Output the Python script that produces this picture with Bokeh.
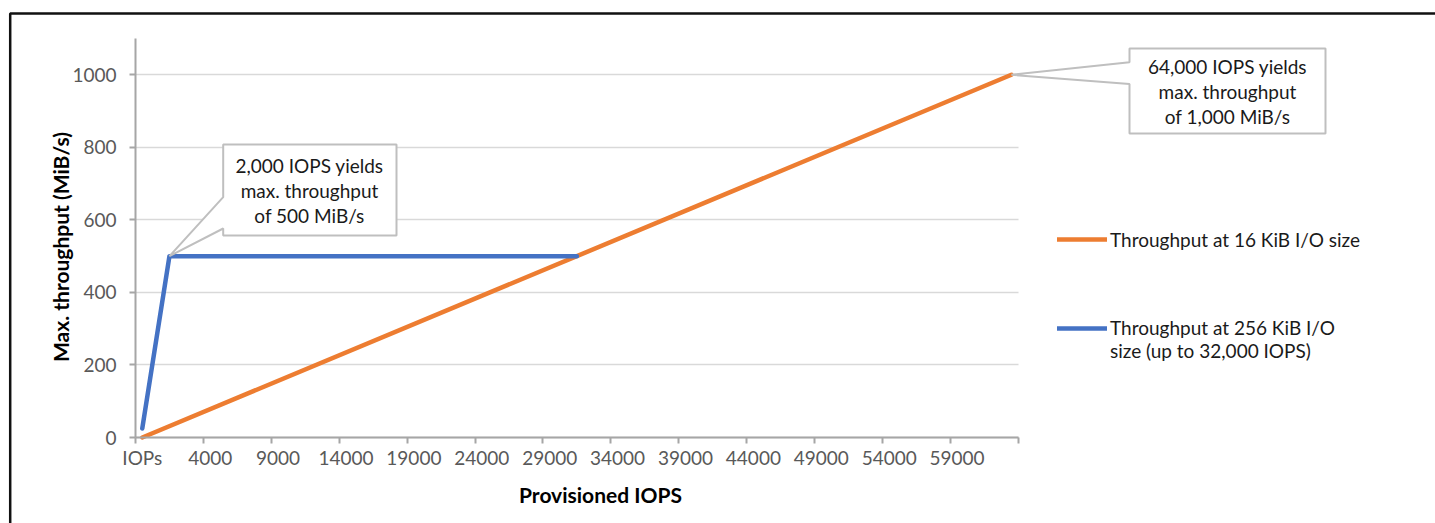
import math
from bokeh.plotting import figure
from bokeh.models import Range1d, FixedTicker, Label, PolyAnnotation, Legend, LegendItem, Grid
from bokeh.embed import file_html
from bokeh.resources import INLINE

# ---- data (x = provisioned IOPS in thousands = category index on an Excel category axis)
iops_k_16 = [0, 64]
tput_16 = [0, 1000]
iops_k_256 = [0, 2, 32]
tput_256 = [25, 500, 500]

tick_pos = list(range(0, 61, 5))
tick_labels = ["IOPs", "4000", "9000", "14000", "19000", "24000", "29000",
               "34000", "39000", "44000", "49000", "54000", "59000"]
y_ticks = [0, 200, 400, 600, 800, 1000]

series_names = ["Throughput at 16 KiB I/O size",
                "\nThroughput at 256 KiB I/O\nsize (up to 32,000 IOPS)"]
callout_1 = "2,000 IOPS yields\nmax. throughput\nof 500 MiB/s"
callout_2 = "64,000 IOPS yields\nmax. throughput\nof 1,000 MiB/s"

ORANGE = "#ED7D31"
BLUE = "#4472C4"
FONT = "Lato"
FS = "19px"
TXT = "#1a1a1a"

# ---- geometry: plot area in page pixels x 135..1017.7, y 38..437
X0, X1 = -0.5, 64.5
Y0, Y1 = 0, 1100
FL, FR, FT, FB = 135.0, 1017.7, 38.0, 437.0
W, H = 1435, 523


def px2x(px):
    return X0 + (px - FL) / (FR - FL) * (X1 - X0)


def py2y(py):
    return Y0 + (FB - py) / (FB - FT) * (Y1 - Y0)


p = figure(width=W, height=H, x_range=Range1d(px2x(0), px2x(W)),
           y_range=Range1d(py2y(H), py2y(0)),
           output_backend="svg", toolbar_location=None, min_border=0)
p.outline_line_color = None

# x axis (category style: ticks on boundaries, labels on categories)
xa = p.xaxis[0]
xa.fixed_location = 0
xa.bounds = (X0, X1)
xa.ticker = FixedTicker(ticks=tick_pos, minor_ticks=[X0 + 5 * k for k in range(14)])
xa.major_label_overrides = {t: l for t, l in zip(tick_pos, tick_labels)}
xa.major_tick_line_color = None
xa.minor_tick_line_color = "#A6A6A6"
xa.minor_tick_line_width = 2
xa.minor_tick_out = 6
xa.minor_tick_in = 0
xa.axis_line_color = "#A6A6A6"
xa.axis_line_width = 2
xa.major_label_text_font = FONT
xa.major_label_text_font_size = FS
xa.major_label_text_color = "#595959"
xa.major_label_standoff = 2

ya = p.yaxis[0]
ya.fixed_location = X0
ya.bounds = (Y0, Y1)
ya.ticker = FixedTicker(ticks=y_ticks)
ya.minor_tick_line_color = None
ya.major_tick_line_color = "#A6A6A6"
ya.major_tick_line_width = 2
ya.major_tick_out = 6
ya.major_tick_in = 0
ya.axis_line_color = "#A6A6A6"
ya.axis_line_width = 2
ya.major_label_text_font = FONT
ya.major_label_text_font_size = FS
ya.major_label_text_color = "#595959"
ya.major_label_standoff = 13

p.xgrid.visible = False
p.ygrid.visible = False
grid = Grid(dimension=1, ticker=FixedTicker(ticks=y_ticks), grid_line_color="#D9D9D9",
            grid_line_width=1.5, level="underlay")
if "cross_bounds" in Grid.properties():
    grid.cross_bounds = (X0, X1)
    p.add_layout(grid)
else:
    p.segment(x0=[X0] * len(y_ticks), x1=[X1] * len(y_ticks), y0=y_ticks, y1=y_ticks,
              line_color="#D9D9D9", line_width=1.5, level="underlay")

# axis titles
p.add_layout(Label(x=px2x(600), y=py2y(494), text="Provisioned IOPS", text_align="center",
                   text_baseline="middle", text_font=FONT, text_font_size="21px",
                   text_font_style="bold", text_color="black"))
p.add_layout(Label(x=px2x(60), y=py2y(244), text="Max. throughput  (MiB/s)", angle=math.pi / 2,
                   text_align="center", text_baseline="middle", text_font=FONT,
                   text_font_size="21px", text_font_style="bold", text_color="black"))

# series
r16 = p.line(iops_k_16, tput_16, line_color=ORANGE, line_width=4.5, line_cap="round")
r256 = p.line(iops_k_256, tput_256, line_color=BLUE, line_width=4.5,
              line_cap="round", line_join="round")


# callouts (wedge rectangles) anchored at data points
def callout(tip_x, tip_y, left, right, top, bottom, w_top, w_bot, text, cx, cy):
    xs = [px2x(left), px2x(right), px2x(right), px2x(left), px2x(left), tip_x, px2x(left)]
    ys = [py2y(top), py2y(top), py2y(bottom), py2y(bottom), py2y(w_bot), tip_y, py2y(w_top)]
    p.add_layout(PolyAnnotation(xs=xs, ys=ys, fill_color="white", fill_alpha=1.0,
                                line_color="#BFBFBF", line_alpha=1.0, line_width=2,
                                level="overlay"))
    p.add_layout(Label(x=px2x(cx), y=py2y(cy), text=text, text_align="center",
                       text_baseline="middle", text_font=FONT, text_font_size=FS,
                       text_color=TXT, text_line_height=1.1, level="overlay"))


callout(iops_k_256[1], tput_256[1], 222.7, 396, 144, 235, 196.7, 228, callout_1, 309, 190)
callout(iops_k_16[-1], tput_16[-1], 1129, 1325, 48, 133, 61.7, 83.5, callout_2, 1227, 91)

# legend
legend = Legend(items=[LegendItem(label=series_names[0], renderers=[r16]),
                       LegendItem(label=series_names[1], renderers=[r256])],
                location=(1057, 161), glyph_width=50, glyph_height=30, label_standoff=3,
                padding=0, margin=0, spacing=39, border_line_color=None,
                background_fill_alpha=0, label_text_font=FONT, label_text_font_size=FS,
                label_text_color=TXT, label_text_line_height=1.46, label_height=30)
p.add_layout(legend)

# outer chart border (left and top edges)
p.add_layout(PolyAnnotation(xs=[px2x(9.7), px2x(9.7), px2x(3000), px2x(3000)],
                            ys=[py2y(3000), py2y(13), py2y(13), py2y(3000)],
                            fill_alpha=0, line_color="#111111", line_alpha=1.0,
                            line_width=2.5, level="overlay"))

open("out.html", "w").write(file_html(p, INLINE))
